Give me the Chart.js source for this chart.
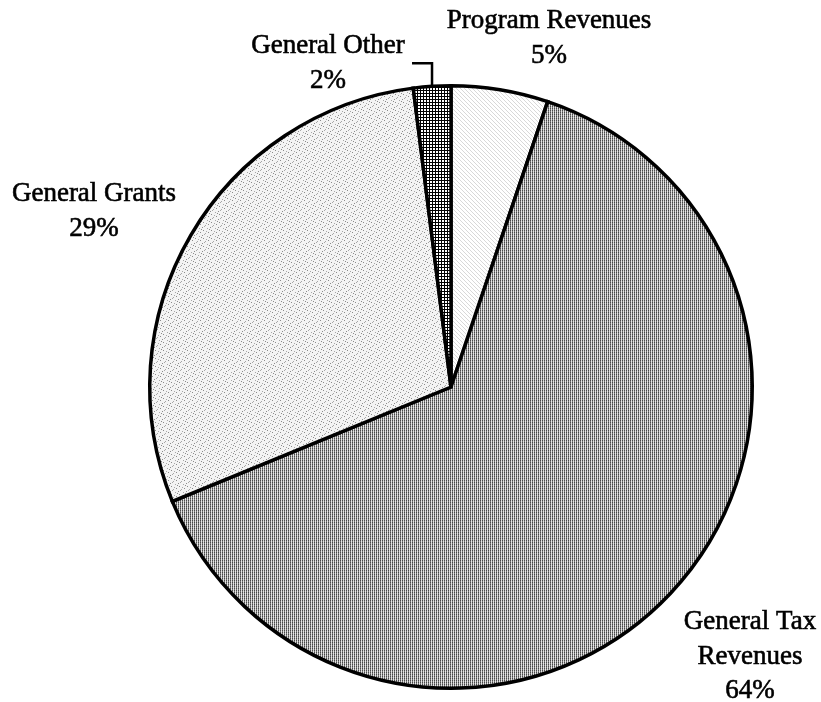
<!DOCTYPE html>
<html>
<head>
<meta charset="utf-8">
<script src="https://cdn.jsdelivr.net/npm/chart.js@4.4.0/dist/chart.umd.min.js"></script>
<style>
  html, body { margin: 0; padding: 0; background: #ffffff; }
  #wrap { width: 821px; height: 702px; }
</style>
</head>
<body>
<div id="wrap"><canvas id="c" width="821" height="702"></canvas></div>
<script>
// ---- data ----
const categories = ['Program Revenues', 'General Tax Revenues', 'General Grants', 'General Other'];
const labelLines = [['Program Revenues'], ['General Tax', 'Revenues'], ['General Grants'], ['General Other']];
const shares = [5.2, 63.6, 29.2, 2.0];

// ---- layout (label anchor offsets from pie centre, px) ----
const labelAnchors = [[98, -359], [299, 242], [-357, -186], [-123, -334]];

function makePattern(w, h, painter) {
  const cv = document.createElement('canvas');
  cv.width = w; cv.height = h;
  const g = cv.getContext('2d');
  painter(g);
  return document.getElementById('c').getContext('2d').createPattern(cv, 'repeat');
}
function px(g, x, y, col) { g.fillStyle = col; g.fillRect(x, y, 1, 1); }

const patProgram = makePattern(4, 4, g => {
  g.fillStyle = '#ffffff'; g.fillRect(0, 0, 4, 4);
  for (let i = 0; i < 4; i++) px(g, i, i, '#d8d8d8');
});
const patTax = makePattern(2, 2, g => {
  px(g, 0, 0, '#4a4a4a'); px(g, 0, 1, '#7a7a7a');
  px(g, 1, 0, '#d6d6d6'); px(g, 1, 1, '#e8e8e8');
});
const grantDots = [[0,0],[5,1],[2,3],[7,4],[3,6],[6,7],[1,5],[4,2]];
const patGrants = makePattern(8, 8, g => {
  g.fillStyle = '#f4f4f4'; g.fillRect(0, 0, 8, 8);
  grantDots.forEach(([x, y], k) => px(g, x, y, k % 2 ? '#a8a8a8' : '#8c8c8c'));
});
const patOther = makePattern(3, 3, g => {
  g.fillStyle = '#000000'; g.fillRect(0, 0, 3, 3);
  g.fillStyle = '#ffffff'; g.fillRect(1, 1, 2, 2);
});

const labelPlugin = {
  id: 'sliceLabels',
  afterDraw(chart) {
    const ctx = chart.ctx;
    const meta = chart.getDatasetMeta(0);
    const data = chart.data.datasets[0].data;
    const total = data.reduce((a, b) => a + b, 0);
    ctx.save();
    ctx.font = '27px "Liberation Serif", "Times New Roman", serif';
    ctx.fillStyle = '#000000';
    ctx.strokeStyle = '#000000';
    ctx.lineWidth = 0.6;
    ctx.textAlign = 'center';
    ctx.textBaseline = 'alphabetic';
    const lh = 34.5;
    meta.data.forEach((arc, i) => {
      const p = arc.getProps(['x', 'y', 'startAngle', 'endAngle', 'outerRadius'], true);
      const ax = p.x + labelAnchors[i][0];
      const ay = p.y + labelAnchors[i][1];
      const lines = labelLines[i].concat([Math.round(data[i] / total * 100) + '%']);
      lines.forEach((t, k) => { ctx.fillText(t, ax, ay + k * lh); ctx.strokeText(t, ax, ay + k * lh); });
      if (i === 3) {
        // leader line for small slice
        const mid = (p.startAngle + p.endAngle) / 2;
        const ex = p.x + (p.outerRadius + 1) * Math.cos(mid);
        const ey = p.y + (p.outerRadius + 1) * Math.sin(mid);
        ctx.beginPath();
        ctx.lineWidth = 2.5;
        ctx.moveTo(ex, ey);
        ctx.lineTo(ex, ey - 22);
        ctx.lineTo(ex - 20, ey - 22);
        ctx.stroke();
        ctx.lineWidth = 0.6;
      }
    });
    ctx.restore();
  }
};

new Chart(document.getElementById('c'), {
  type: 'pie',
  data: {
    labels: categories,
    datasets: [{
      data: shares,
      backgroundColor: [patProgram, patTax, patGrants, patOther],
      borderColor: '#000000',
      borderWidth: 3.5,
      borderJoinStyle: 'miter'
    }]
  },
  options: {
    responsive: false,
    devicePixelRatio: 1,
    animation: false,
    rotation: 0,
    layout: { padding: { left: 148, right: 67, top: 84, bottom: 12 } },
    plugins: {
      legend: { display: false },
      tooltip: { enabled: false },
      title: { display: false }
    }
  },
  plugins: [labelPlugin]
});
</script>
</body>
</html>
